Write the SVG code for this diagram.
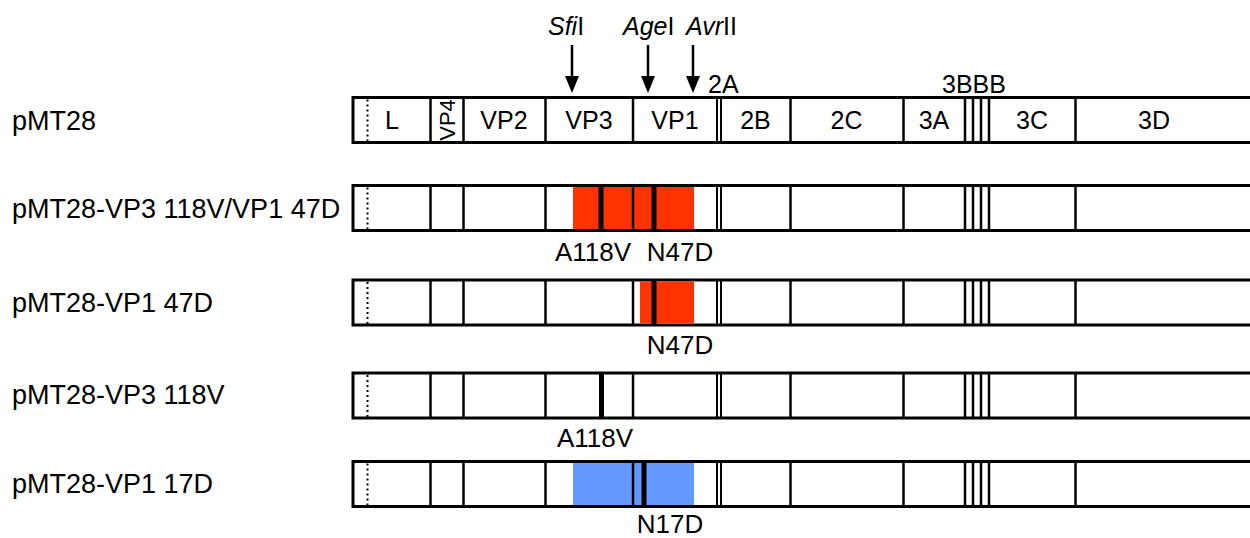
<svg xmlns="http://www.w3.org/2000/svg" width="1250" height="538" viewBox="0 0 1250 538">
<defs>
<style>
text{font-family:"Liberation Sans",Arial,sans-serif;fill:#000;}
.lbl{font-size:27px;}
.seg{font-size:25px;text-anchor:middle;}
.vp4{font-size:22px;text-anchor:middle;}
.mut{font-size:26px;text-anchor:middle;}
.top{font-size:25px;}
.bar{fill:#fff;stroke:#000;stroke-width:3;}
.sep{stroke:#000;stroke-width:2.5;}
.thin{stroke:#000;stroke-width:2;}
.dot{stroke:#000;stroke-width:2;stroke-dasharray:2 3;}
.mutl{stroke:#000;stroke-width:5;}
.arr{stroke:#000;stroke-width:2.5;}
.red{fill:#FF3300;}
.blue{fill:#6699FF;}
</style>
<g id="seps">
<line class="sep" x1="430.5" y1="0" x2="430.5" y2="46"/>
<line class="sep" x1="463.5" y1="0" x2="463.5" y2="46"/>
<line class="sep" x1="545.5" y1="0" x2="545.5" y2="46"/>
<line class="sep" x1="633" y1="0" x2="633" y2="46"/>
<line class="thin" x1="717" y1="0" x2="717" y2="46"/>
<line class="thin" x1="721" y1="0" x2="721" y2="46"/>
<line class="sep" x1="790.5" y1="0" x2="790.5" y2="46"/>
<line class="sep" x1="903.5" y1="0" x2="903.5" y2="46"/>
<line class="sep" x1="965" y1="0" x2="965" y2="46"/>
<line class="sep" x1="973" y1="0" x2="973" y2="46"/>
<line class="sep" x1="981" y1="0" x2="981" y2="46"/>
<line class="sep" x1="989" y1="0" x2="989" y2="46"/>
<line class="sep" x1="1075.5" y1="0" x2="1075.5" y2="46"/>
<line class="dot" x1="367.5" y1="2" x2="367.5" y2="45"/>
</g>
</defs>

<g id="restriction-sites">
<text class="top" x="548" y="35"><tspan font-style="italic">Sfi</tspan>I</text>
<text class="top" x="623" y="35"><tspan font-style="italic">Age</tspan>I</text>
<text class="top" x="686" y="35"><tspan font-style="italic">Avr</tspan>II</text>
</g>

<g id="connectors">
<line class="arr" x1="572" y1="45" x2="572" y2="78"/>
<polygon points="565,76 579,76 572,93"/>
<line class="arr" x1="648" y1="45" x2="648" y2="78"/>
<polygon points="641,76 655,76 648,93"/>
<line class="arr" x1="693" y1="45" x2="693" y2="78"/>
<polygon points="686,76 700,76 693,93"/>
</g>

<g id="pMT28">
<text class="lbl" x="12" y="130">pMT28</text>
<rect class="bar" x="353" y="97.5" width="910" height="45"/>
<use href="#seps" y="97.5"/>
<text class="seg" x="392" y="129">L</text>
<text class="vp4" transform="translate(455,120) rotate(-90)" x="0" y="0">VP4</text>
<text class="seg" x="504" y="129">VP2</text>
<text class="seg" x="589" y="129">VP3</text>
<text class="seg" x="675" y="129">VP1</text>
<text class="seg" x="755.5" y="129">2B</text>
<text class="seg" x="846.5" y="129">2C</text>
<text class="seg" x="934" y="129">3A</text>
<text class="seg" x="1032" y="129">3C</text>
<text class="seg" x="1154" y="129">3D</text>
<text class="top" x="708" y="93">2A</text>
<text class="top" x="942" y="93">3BBB</text>
</g>

<g id="pMT28-VP3-118V-VP1-47D">
<text class="lbl" x="12" y="218">pMT28-VP3 118V/VP1 47D</text>
<rect class="bar" x="353" y="185.5" width="910" height="45"/>
<rect class="red" x="573" y="187" width="121" height="42"/>
<use href="#seps" y="185.5"/>
<line class="mutl" x1="601" y1="186" x2="601" y2="230"/>
<line class="mutl" x1="654" y1="186" x2="654" y2="230"/>
<text class="mut" x="593" y="261">A118V</text>
<text class="mut" x="680" y="261">N47D</text>
</g>

<g id="pMT28-VP1-47D">
<text class="lbl" x="12" y="312">pMT28-VP1 47D</text>
<rect class="bar" x="353" y="280" width="910" height="45"/>
<rect class="red" x="640" y="281.5" width="54" height="42"/>
<use href="#seps" y="280"/>
<line class="mutl" x1="654" y1="281" x2="654" y2="324"/>
<text class="mut" x="680" y="354">N47D</text>
</g>

<g id="pMT28-VP3-118V">
<text class="lbl" x="12" y="404">pMT28-VP3 118V</text>
<rect class="bar" x="353" y="373" width="910" height="45"/>
<use href="#seps" y="373"/>
<line class="mutl" x1="601.5" y1="374" x2="601.5" y2="417"/>
<text class="mut" x="595" y="447">A118V</text>
</g>

<g id="pMT28-VP1-17D">
<text class="lbl" x="12" y="493">pMT28-VP1 17D</text>
<rect class="bar" x="353" y="461.5" width="910" height="45"/>
<rect class="blue" x="573" y="463" width="121" height="42"/>
<use href="#seps" y="461.5"/>
<line class="mutl" x1="644" y1="462" x2="644" y2="506"/>
<text class="mut" x="670" y="533">N17D</text>
</g>
</svg>
